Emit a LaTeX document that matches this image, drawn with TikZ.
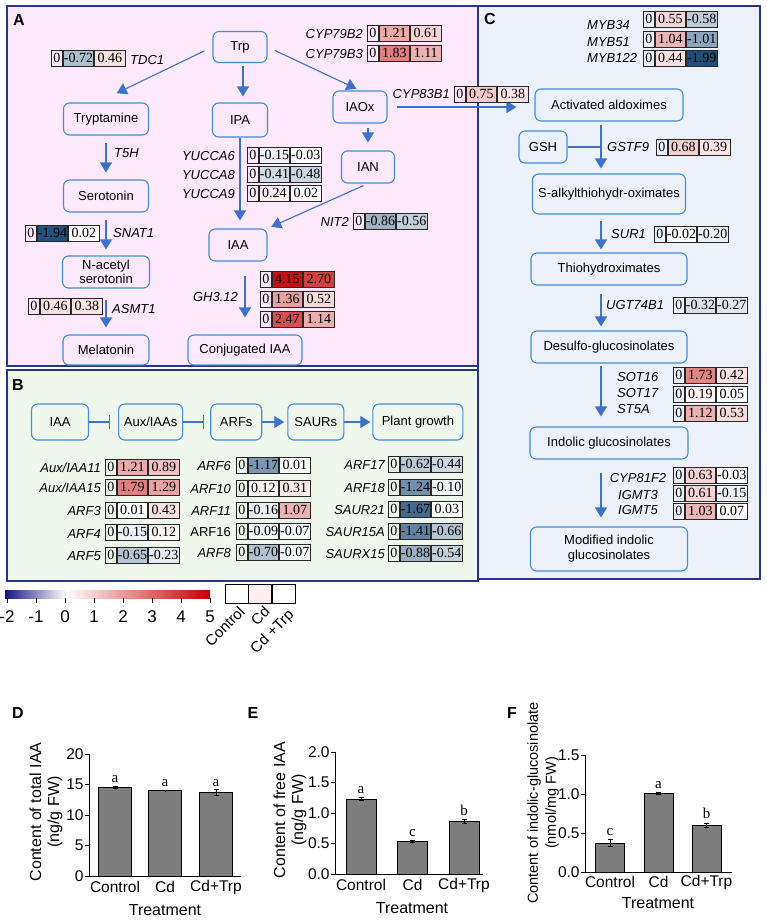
\documentclass[tikz,border=0pt]{standalone}
\usepackage{fontspec}
\setmainfont{Liberation Sans}
\newfontfamily\numfont{Liberation Serif}
\usepackage{tikz}
\usetikzlibrary{arrows.meta,positioning}

\definecolor{boxblue}{RGB}{66,140,218}
\definecolor{arrblue}{RGB}{62,112,205}
\definecolor{panelline}{RGB}{38,52,140}
\definecolor{fillA}{RGB}{252,233,252}
\definecolor{fillB}{RGB}{239,246,235}
\definecolor{fillC}{RGB}{237,242,250}
\definecolor{hcred}{RGB}{196,18,18}
\definecolor{hcblue}{RGB}{30,76,120}
\definecolor{cbblue}{RGB}{20,20,130}
\definecolor{cbred}{RGB}{200,0,0}
\definecolor{bargray}{RGB}{125,125,125}

% heat map colour of one value
\newcommand{\hcset}[1]{%
  \pgfmathtruncatemacro{\hcneg}{(#1<0)}%
  \ifnum\hcneg=1
    \pgfmathtruncatemacro{\hcpct}{min(100,-50*(#1))}%
    \edef\hccol{hcblue!\hcpct!white}%
  \else
    \pgfmathtruncatemacro{\hcpct}{min(100,30*(#1))}%
    \edef\hccol{hcred!\hcpct!white}%
  \fi}
% one heat map row: Control, Cd, Cd+Trp
\newcommand{\hrow}[5]{%
  \node[hczero] (#1a) at (#2,#3) {0};
  \hcset{#4}\node[hcval, fill=\hccol, right=0pt of #1a] (#1b) {#4};
  \hcset{#5}\node[hcval, fill=\hccol, right=0pt of #1b] (#1c) {#5};}

\begin{document}
\begin{tikzpicture}[x=1pt, y=-1pt,
    font=\fontsize{13}{14.5}\selectfont,
    box/.style={rectangle, rounded corners=6pt, draw=boxblue, line width=1.1pt, align=center, minimum height=32pt, inner sep=2pt},
    arr/.style={draw=arrblue, line width=1.1pt, -{Triangle[length=10pt,width=12pt]}},
    inhib/.style={draw=arrblue, line width=1.1pt, -{Bar[width=14pt]}},
    gene/.style={font=\fontsize{13}{14}\selectfont\itshape, inner sep=0pt},
    panel/.style={draw=panelline, line width=1.8pt},
    plab/.style={font=\fontsize{16}{16}\selectfont\bfseries, inner sep=0pt},
    hczero/.style={draw=black!85, line width=0.8pt, minimum width=11pt, minimum height=16pt, inner sep=0pt, anchor=west, font=\numfont\fontsize{14}{14}\selectfont},
    hcval/.style={hczero, minimum width=30.5pt},
    lgcell/.style={draw, line width=0.9pt, fill=white, minimum width=23pt, minimum height=19pt, inner sep=0pt},
    rot/.style={rotate=45, anchor=east, inner sep=0pt, font=\fontsize{15}{15}\selectfont},
    axis/.style={line width=0.9pt},
    bar/.style={draw, line width=0.9pt, fill=bargray},
    err/.style={line width=0.9pt, arrows={Bar[width=5pt]-Bar[width=5pt]}},
    ylab/.style={anchor=east, inner sep=1pt, font=\fontsize{15.5}{16}\selectfont},
    xlab/.style={inner sep=0pt, font=\fontsize{15.5}{16}\selectfont},
    atitle/.style={inner sep=0pt, align=center, font=\fontsize{16}{18}\selectfont},
    sig/.style={anchor=base, inner sep=0pt, font=\numfont\fontsize{15}{15}\selectfont}
  ]
  \fill[white] (0,0) rectangle (767,921);
  \useasboundingbox (0,0) rectangle (767,921);

  % panels
  \draw[panel, fill=fillA] (7,6) rectangle (478,366);
  \draw[panel, fill=fillB] (7,370) rectangle (478,581);
  \draw[panel, fill=fillC] (478,6) rectangle (760,579);
  \node[plab] (pa) at (19,20) {A};
  \node[plab] (pb) at (18,385) {B};
  \node[plab] (pc) at (490,19) {C};

  % A: tryptophan pathways
  \node[box, minimum width=54pt, minimum height=31pt] (trp) at (240,47) {Trp};
  \node[box, minimum width=85pt] (tryp) at (106,119) {Tryptamine};
  \node[box, minimum width=55pt, minimum height=34pt] (ipa) at (240,120) {IPA};
  \node[box, minimum width=54pt] (iaox) at (360,107) {IAOx};
  \node[box, minimum width=53pt] (ian) at (368,167) {IAN};
  \node[box, minimum width=85pt] (sero) at (106,196) {Serotonin};
  \node[box, minimum width=87pt, font=\fontsize{13}{14}\selectfont] (nacet) at (106,272) {N-acetyl\\serotonin};
  \node[box, minimum width=86pt, minimum height=30pt] (mela) at (106,350) {Melatonin};
  \node[box, minimum width=58pt] (iaa) at (238,245) {IAA};
  \node[box, minimum width=114pt, minimum height=30pt] (conj) at (245,350) {Conjugated IAA};

  \draw[arr, shorten <=9pt, shorten >=3pt] (trp.west) -- ([xshift=8pt,yshift=8pt]tryp.north);
  \draw[arr, shorten <=3pt, shorten >=6pt] ([xshift=3pt]trp.south) -- ([xshift=3pt]ipa.north);
  \draw[arr, shorten <=8pt, shorten >=4pt] (trp.east) -- (iaox.north);
  \draw[arr, shorten <=7pt, shorten >=7pt] (tryp) -- (sero);
  \draw[arr, shorten <=7pt, shorten >=6pt] (sero) -- (nacet);
  \draw[arr, shorten <=11pt, shorten >=7pt] (nacet) -- (mela);
  \draw[arr, shorten >=8pt] (ipa.south) -- (ipa.south |- iaa.north);
  \draw[arr, shorten <=4pt, shorten >=8pt] (iaox.south -| ian.north) -- (ian.north);
  \draw[arr, shorten <=5pt, shorten >=4pt] (ian.south) -- (iaa.north east);
  \draw[arr, shorten <=14pt, shorten >=17pt] (iaa.south -| conj.north) -- (conj.north);

  \node[gene, anchor=west] (gtdc) at (130,60) {TDC1};
  \node[gene, anchor=east] (gcypb2) at (363,34) {CYP79B2};
  \node[gene, anchor=east] (gcypb3) at (363,54) {CYP79B3};
  \node[gene, anchor=west] (gt5h) at (114,153) {T5H};
  \node[gene, anchor=west] (gsnat) at (113,233) {SNAT1};
  \node[gene, anchor=west] (gasmt) at (112,309) {ASMT1};
  \node[gene, anchor=east] (gyuc6) at (235,156) {YUCCA6};
  \node[gene, anchor=east] (gyuc8) at (235,175) {YUCCA8};
  \node[gene, anchor=east] (gyuc9) at (235,194) {YUCCA9};
  \node[gene, anchor=east] (gnit) at (349,222) {NIT2};
  \node[gene, anchor=east] (ggh) at (238,297) {GH3.12};
  \node[gene, anchor=east] (gcypc) at (450,94) {CYP83B1};

  \hrow{tdc}{51}{58}{-0.72}{0.46}
  \hrow{cypb2}{367}{33}{1.21}{0.61}
  \hrow{cypb3}{367}{53}{1.83}{1.11}
  \hrow{yuc6}{247}{155}{-0.15}{-0.03}
  \hrow{yuc8}{247}{174}{-0.41}{-0.48}
  \hrow{yuc9}{247}{193}{0.24}{0.02}
  \hrow{nit}{353}{221}{-0.86}{-0.56}
  \hrow{snat}{25}{233}{-1.94}{0.02}
  \hrow{asmt}{28}{306}{0.46}{0.38}
  \hrow{gha}{260}{279}{4.15}{2.70}
  \hrow{ghb}{260}{299}{1.36}{0.52}
  \hrow{ghc}{260}{319}{2.47}{1.14}

  % C: indolic glucosinolates
  \node[box, minimum width=148pt] (act) at (609,105) {Activated aldoximes};
  \node[box, minimum width=48pt] (gsh) at (543,147) {GSH};
  \node[box, minimum width=153pt, minimum height=40pt] (salk) at (609,194) {S-alkylthiohydr-oximates};
  \node[box, minimum width=156pt] (thio) at (609,269) {Thiohydroximates};
  \node[box, minimum width=156pt] (desulfo) at (609,347) {Desulfo-glucosinolates};
  \node[box, minimum width=158pt] (indolic) at (609,443) {Indolic glucosinolates};
  \node[box, minimum width=157pt, minimum height=44pt, font=\fontsize{13}{15}\selectfont] (modif) at (609,549) {Modified indolic\\glucosinolates};
  \coordinate (cx) at ([xshift=-8pt]act.south);

  \draw[arr, shorten <=9pt, shorten >=18pt] (iaox.east) -- (iaox.east -| act.west);
  \draw[draw=arrblue, line width=1.1pt] (gsh) -- (gsh -| cx);
  \draw[arr, shorten <=3pt, shorten >=5pt] (cx) -- (cx |- salk.north);
  \draw[arr, shorten <=6pt, shorten >=3pt] (cx |- salk.south) -- (cx |- thio.north);
  \draw[arr, shorten <=8pt, shorten >=4pt] (cx |- thio.south) -- (cx |- desulfo.north);
  \draw[arr, shorten <=2pt, shorten >=10pt] (cx |- desulfo.south) -- (cx |- indolic.north);
  \draw[arr, shorten <=13pt, shorten >=9pt] (cx |- indolic.south) -- (cx |- modif.north);

  \node[gene, anchor=west] (gmyba) at (587,25) {MYB34};
  \node[gene, anchor=west] (gmybb) at (587,42) {MYB51};
  \node[gene, anchor=west] (gmybc) at (587,58) {MYB122};
  \node[gene, anchor=west] (ggst) at (607,147) {GSTF9};
  \node[gene, anchor=west] (gsur) at (611,234) {SUR1};
  \node[gene, anchor=west] (gugt) at (606,305) {UGT74B1};
  \node[gene, anchor=west] (gsota) at (617,377) {SOT16};
  \node[gene, anchor=west] (gsotb) at (617,393) {SOT17};
  \node[gene, anchor=west] (gsta) at (617,409) {ST5A};
  \node[gene] (gcypd) at (638,478) {CYP81F2};
  \node[gene] (gigma) at (638,495) {IGMT3};
  \node[gene] (gigmb) at (638,510) {IGMT5};

  \hrow{cypc}{454}{94}{0.75}{0.38}
  \hrow{myba}{643}{19}{0.55}{-0.58}
  \hrow{mybb}{643}{39}{1.04}{-1.01}
  \hrow{mybc}{643}{58}{0.44}{-1.99}
  \hrow{gst}{656}{147}{0.68}{0.39}
  \hrow{sur}{654}{234}{-0.02}{-0.20}
  \hrow{ugt}{673}{305}{-0.32}{-0.27}
  \hrow{sota}{673}{375}{1.73}{0.42}
  \hrow{sotb}{673}{394}{0.19}{0.05}
  \hrow{sta}{673}{413}{1.12}{0.53}
  \hrow{cypd}{673}{475}{0.63}{-0.03}
  \hrow{igma}{673}{493}{0.61}{-0.15}
  \hrow{igmb}{673}{511}{1.03}{0.07}

  % B: auxin signalling
  \node[box, minimum width=57pt, minimum height=36pt] (biaa) at (60,422) {IAA};
  \node[box, minimum width=64pt, minimum height=36pt, right=29pt of biaa] (aux) {Aux/IAAs};
  \node[box, minimum width=51pt, minimum height=36pt, right=27pt of aux] (arfs) {ARFs};
  \node[box, minimum width=56pt, minimum height=36pt, right=25pt of arfs] (saurs) {SAURs};
  \node[box, minimum width=90pt, minimum height=36pt, right=28pt of saurs] (growth) {Plant growth};
  \draw[inhib, shorten >=8pt] (biaa) -- (aux);
  \draw[inhib, shorten >=6pt] (aux) -- (arfs);
  \draw[arr, shorten >=3pt] (arfs) -- (saurs);
  \draw[arr, shorten >=2pt] (saurs) -- (growth);

  \node[gene, anchor=east] (gaux11) at (101,468) {Aux/IAA11};
  \node[gene, anchor=east] (gaux15) at (101,488) {Aux/IAA15};
  \node[gene, anchor=east] (garf3) at (101,511) {ARF3};
  \node[gene, anchor=east] (garf4) at (101,534) {ARF4};
  \node[gene, anchor=east] (garf5) at (101,556) {ARF5};
  \node[gene, anchor=east] (garf6) at (231,466) {ARF6};
  \node[gene, anchor=east] (garf10) at (231,489) {ARF10};
  \node[gene, anchor=east] (garf11) at (231,511) {ARF11};
  \node[gene, anchor=east, font=\fontsize{13}{14}\selectfont] (garf16) at (231,532) {ARF16};
  \node[gene, anchor=east] (garf8) at (231,553) {ARF8};
  \node[gene, anchor=east] (garf17) at (385,465) {ARF17};
  \node[gene, anchor=east] (garf18) at (385,488) {ARF18};
  \node[gene, anchor=east] (gsaur21) at (385,510) {SAUR21};
  \node[gene, anchor=east] (gsaur15) at (385,532) {SAUR15A};
  \node[gene, anchor=east] (gsaurx) at (385,554) {SAURX15};

  \hrow{aux11}{105}{467}{1.21}{0.89}
  \hrow{aux15}{105}{487}{1.79}{1.29}
  \hrow{arf3}{105}{510}{0.01}{0.43}
  \hrow{arf4}{105}{532}{-0.15}{0.12}
  \hrow{arf5}{105}{555}{-0.65}{-0.23}
  \hrow{arf6}{236}{465}{-1.17}{0.01}
  \hrow{arf10}{236}{488}{0.12}{0.31}
  \hrow{arf11}{236}{510}{-0.16}{1.07}
  \hrow{arf16}{236}{531}{-0.09}{-0.07}
  \hrow{arf8}{236}{552}{-0.70}{-0.07}
  \hrow{arf17}{388}{464}{-0.62}{-0.44}
  \hrow{arf18}{388}{487}{-1.24}{-0.10}
  \hrow{saur21}{388}{509}{-1.67}{0.03}
  \hrow{saur15}{388}{531}{-1.41}{-0.66}
  \hrow{saurx}{388}{553}{-0.88}{-0.54}

  % colour scale and treatments
  \shade[left color=cbblue, right color=white] (5,590) rectangle (66,598);
  \shade[left color=white, right color=cbred] (66,590) rectangle (210,598);
  \foreach \v [count=\i] in {-2,-1,0,1,2,3,4,5} {
    \draw[line width=0.8pt] ({7+29*(\v+2)},598) -- ++(0,5);
    \node[inner sep=0pt, font=\fontsize{17}{17}\selectfont] (cb\i) at ({7+29*(\v+2)},617) {\v};
  }
  \node[lgcell] (lgctl) at (236.5,593.5) {};
  \node[lgcell, fill=red!6, right=0pt of lgctl] (lgcd) {};
  \node[lgcell, right=0pt of lgcd] (lgtrp) {};
  \node[rot] (lgl1) at (242,609) {Control};
  \node[rot] (lgl2) at (267,609) {Cd};
  \node[rot] (lgl3) at (292,613) {Cd +Trp};

  % D: total IAA
  \node[plab] (pd) at (18,713) {D};
  \draw[axis] (89,754) -- (89,876) -- (241,876);
  \foreach \t [count=\i] in {0,5,10,15,20}
    \draw[axis] (89,{876-6.1*\t}) -- ++(-4,0) node[ylab] (dy\i) {\t};
  \foreach \cx/\v/\e/\s/\tr [count=\i] in {115/14.5/0.3/a/Control, 165/14.0/0.12/a/Cd, 216/13.7/0.5/a/Cd+Trp} {
    \draw[bar] ({\cx-16.5},876) rectangle ({\cx+16.5},{876-6.1*\v});
    \draw[err] (\cx,{876-6.1*(\v-\e)}) -- (\cx,{876-6.1*(\v+\e)});
    \node[sig] (ds\i) at (\cx,{876-6.1*(\v+\e)-3}) {\s};
    \node[xlab] (dx\i) at (\cx,887) {\tr};
  }
  \node[atitle] (dxt) at (165,910) {Treatment};
  \node[atitle, rotate=90] (dyt) at (46,812) {Content of total IAA\\(ng/g FW)};

  % E: free IAA
  \node[plab] (pe) at (253,713) {E};
  \draw[axis] (335,752) -- (335,874) -- (483,874);
  \foreach \t [count=\i] in {0.0,0.5,1.0,1.5,2.0}
    \draw[axis] (335,{874-61*\t}) -- ++(-4,0) node[ylab] (ey\i) {\t};
  \foreach \cx/\v/\e/\s/\tr [count=\i] in {361/1.23/0.03/a/Control, 412.5/0.53/0.02/c/Cd, 464/0.86/0.04/b/Cd+Trp} {
    \draw[bar] ({\cx-15},874) rectangle ({\cx+15},{874-61*\v});
    \draw[err] (\cx,{874-61*(\v-\e)}) -- (\cx,{874-61*(\v+\e)});
    \node[sig] (es\i) at (\cx,{874-61*(\v+\e)-4}) {\s};
    \node[xlab] (ex\i) at (\cx,885) {\tr};
  }
  \node[atitle] (ext) at (412,908) {Treatment};
  \node[atitle, rotate=90] (eyt) at (290,810) {Content of free IAA\\(ng/g FW)};

  % F: indolic glucosinolate
  \node[plab] (pf) at (512,713) {F};
  \draw[axis] (585,755) -- (585,872) -- (732,872);
  \foreach \t [count=\i] in {0.0,0.5,1.0,1.5}
    \draw[axis] (585,{872-78*\t}) -- ++(-4,0) node[ylab] (fy\i) {\t};
  \foreach \cx/\v/\e/\s/\tr [count=\i] in {610/0.37/0.05/c/Control, 658.5/1.01/0.015/a/Cd, 706.5/0.60/0.03/b/Cd+Trp} {
    \draw[bar] ({\cx-14.5},872) rectangle ({\cx+14.5},{872-78*\v});
    \draw[err] (\cx,{872-78*(\v-\e)}) -- (\cx,{872-78*(\v+\e)});
    \node[sig] (fs\i) at (\cx,{872-78*(\v+\e)-4}) {\s};
    \node[xlab] (fx\i) at (\cx,882) {\tr};
  }
  \node[atitle] (fxt) at (658,903) {Treatment};
  \node[atitle, rotate=90, font=\fontsize{14.5}{18}\selectfont] (fyt) at (543,803) {Content of indolic-glucosinolate\\(nmol/mg FW)};
\end{tikzpicture}
\end{document}
